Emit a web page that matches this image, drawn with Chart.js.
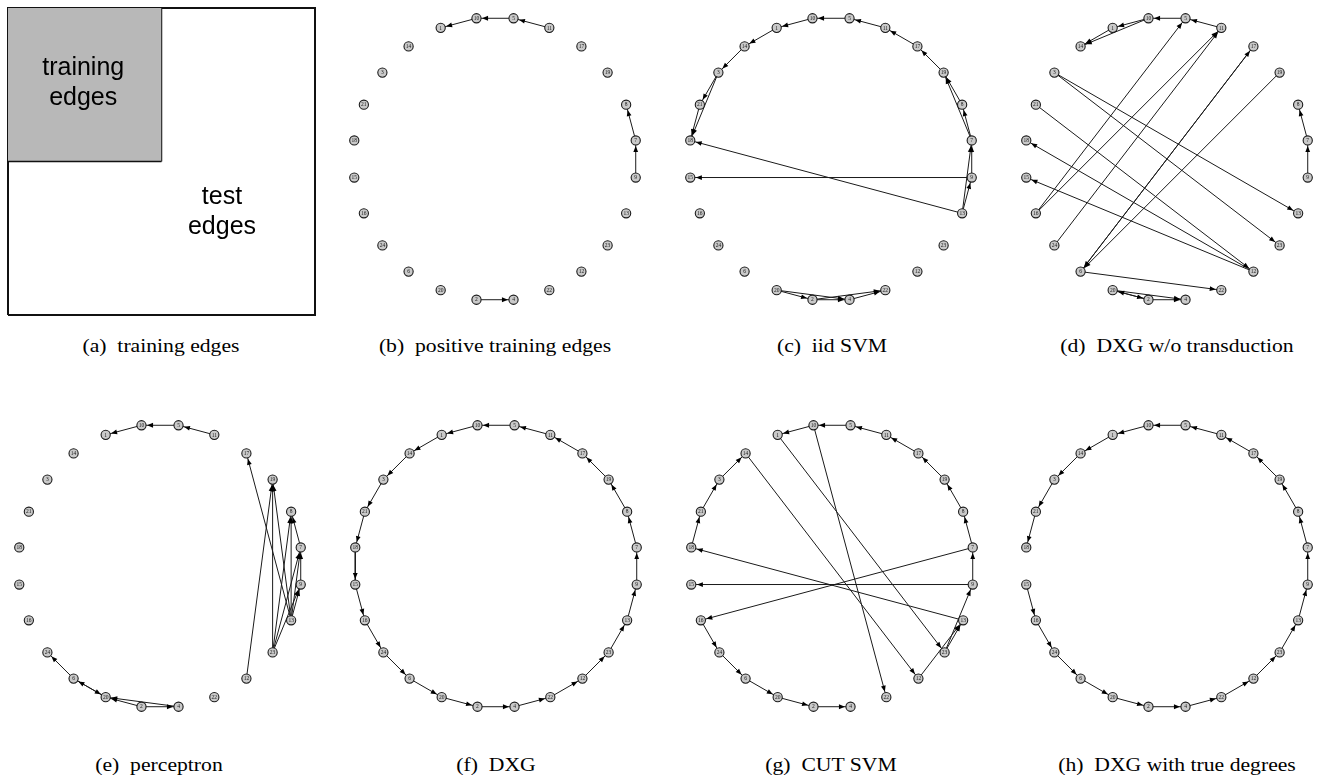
<!DOCTYPE html>
<html>
<head>
<meta charset="utf-8">
<script src="https://cdn.jsdelivr.net/npm/chart.js@4.4.1/dist/chart.umd.min.js"></script>
<style>
  body { margin: 0; background: #fff; width: 1325px; height: 779px; position: relative; overflow: hidden; }
  canvas { position: absolute; }
  .cap { position: absolute; width: 400px; text-align: center; white-space: pre;
         font-family: "Liberation Serif", "Times New Roman", serif; font-size: 19px; color: #000;
         transform: scaleX(1.14); transform-origin: center; }
</style>
</head>
<body>
<canvas id="pa" width="311" height="311" style="left:6px;top:6px"></canvas>
<canvas id="pb" width="318" height="318"></canvas>
<canvas id="pc" width="318" height="318"></canvas>
<canvas id="pd" width="318" height="318"></canvas>
<canvas id="pe" width="318" height="318"></canvas>
<canvas id="pf" width="318" height="318"></canvas>
<canvas id="pg" width="318" height="318"></canvas>
<canvas id="ph" width="318" height="318"></canvas>

<div class="cap" style="left:-39px;top:335px">(a)  training edges</div>
<div class="cap" style="left:295px;top:335px">(b)  positive training edges</div>
<div class="cap" style="left:632px;top:335px">(c)  iid SVM</div>
<div class="cap" style="left:977px;top:335px">(d)  DXG w/o transduction</div>
<div class="cap" style="left:-41px;top:754px">(e)  perceptron</div>
<div class="cap" style="left:296px;top:754px">(f)  DXG</div>
<div class="cap" style="left:631px;top:754px">(g)  CUT SVM</div>
<div class="cap" style="left:977px;top:754px">(h)  DXG with true degrees</div>

<script>
// node names, clockwise round the circle starting just right of the top
const nodeOrder = [5, 11, 17, 19, 8, 7, 9, 13, 23, 12, 22, 4, 2, 20, 6, 24, 16, 15, 18, 21, 3, 14, 1, 10];

// directed edges [from, to] for each panel
const positiveEdges = [[11, 5], [5, 10], [10, 1], [9, 7], [7, 8], [2, 4]];

const iidSvmEdges = [[11, 5], [5, 10], [10, 1], [1, 14], [14, 3], [3, 21], [3, 18], [21, 18],
    [17, 11], [19, 17], [8, 19], [7, 19], [7, 8], [9, 7], [13, 9], [13, 7], [9, 15], [13, 18],
    [20, 2], [20, 4], [2, 4], [2, 22], [4, 22]];

const noTransductionEdges = [[11, 5], [5, 10], [10, 1], [10, 14], [1, 14], [9, 7], [7, 8],
    [16, 5], [16, 11], [24, 11], [6, 17], [17, 6], [19, 6], [6, 22], [3, 13], [3, 23],
    [21, 12], [12, 18], [12, 15], [2, 20], [20, 2], [20, 4], [2, 4]];

const perceptronEdges = [[11, 5], [5, 10], [10, 1], [12, 19], [13, 17], [23, 19], [13, 19],
    [23, 8], [13, 8], [23, 7], [13, 7], [23, 9], [13, 9], [9, 7], [7, 8],
    [6, 24], [20, 6], [6, 20], [2, 20], [4, 20], [2, 4]];

const dxgEdges = [[5, 10], [10, 1], [1, 14], [14, 3], [3, 21], [21, 18], [18, 15], [15, 16],
    [16, 24], [24, 6], [6, 20], [20, 2], [2, 4], [4, 22], [22, 12], [12, 23], [23, 13],
    [13, 9], [9, 7], [7, 8], [8, 19], [19, 17], [17, 11], [11, 5]];

const cutSvmEdges = [[11, 5], [5, 10], [10, 1], [17, 11], [19, 17], [8, 19], [7, 8], [9, 7],
    [23, 9], [23, 13], [12, 13], [13, 18], [9, 15], [7, 16], [1, 23], [10, 22], [14, 12],
    [18, 21], [21, 3], [3, 14], [16, 24], [24, 6], [6, 20], [20, 2], [2, 4]];

const trueDegreeEdges = [[5, 10], [10, 1], [1, 14], [14, 3], [3, 21], [21, 18], [15, 16],
    [16, 24], [24, 6], [6, 20], [20, 2], [2, 4], [4, 22], [22, 12], [12, 23], [23, 13],
    [13, 9], [9, 7], [7, 8], [8, 19], [19, 17], [17, 11], [11, 5]];

// circular layout
const nodePos = (name) => {
    const k = nodeOrder.indexOf(name);
    const a = (7.5 + 15 * k) * Math.PI / 180;
    return { x: Math.sin(a), y: Math.cos(a) };
};

const NODE_R = 4.6;

const arrowPlugin = {
    id: 'arrowHeads',
    afterDatasetsDraw(chart) {
        const ctx = chart.ctx;
        ctx.save();
        ctx.fillStyle = '#000';
        chart.data.datasets.forEach((ds, i) => {
            if (!ds.isEdge) return;
            const pts = chart.getDatasetMeta(i).data;
            const x0 = pts[0].x, y0 = pts[0].y, x1 = pts[1].x, y1 = pts[1].y;
            const len = Math.hypot(x1 - x0, y1 - y0);
            const ux = (x1 - x0) / len, uy = (y1 - y0) / len;
            const tx = x1 - ux * (NODE_R + 1), ty = y1 - uy * (NODE_R + 1);
            const bx = tx - ux * 6, by = ty - uy * 6;
            ctx.beginPath();
            ctx.moveTo(tx, ty);
            ctx.lineTo(bx - uy * 2.4, by + ux * 2.4);
            ctx.lineTo(bx + uy * 2.4, by - ux * 2.4);
            ctx.closePath();
            ctx.fill();
        });
        // node labels
        const meta = chart.getDatasetMeta(0);
        ctx.fillStyle = '#222';
        ctx.font = '5.5px "Liberation Serif"';
        ctx.textAlign = 'center';
        ctx.textBaseline = 'middle';
        meta.data.forEach((p, j) => {
            ctx.fillText(String(nodeOrder[j]), p.x, p.y + 0.3);
        });
        ctx.restore();
    }
};

const drawGraph = (id, edges, left, top) => {
    const canvas = document.getElementById(id);
    canvas.style.left = left + 'px';
    canvas.style.top = top + 'px';

    const datasets = [{
        data: nodeOrder.map(nodePos),
        pointRadius: NODE_R,
        pointBackgroundColor: '#c9c9c9',
        pointBorderColor: '#1a1a1a',
        pointBorderWidth: 1.1,
        showLine: false,
        order: 0,
    }];
    edges.forEach(([from, to]) => {
        datasets.push({
            data: [nodePos(from), nodePos(to)],
            isEdge: true,
            showLine: true,
            borderColor: '#1a1a1a',
            borderWidth: 1,
            pointRadius: 0,
            order: 1,
        });
    });

    new Chart(canvas, {
        type: 'scatter',
        data: { datasets },
        plugins: [arrowPlugin],
        options: {
            responsive: false,
            animation: false,
            devicePixelRatio: 1,
            layout: { padding: 0 },
            plugins: { legend: { display: false }, tooltip: { enabled: false } },
            scales: {
                x: { display: false, min: -1.08, max: 1.08 },
                y: { display: false, min: -1.08, max: 1.08 },
            },
        },
    });
};

drawGraph('pb', positiveEdges, 336, 0);
drawGraph('pc', iidSvmEdges, 672, 0);
drawGraph('pd', noTransductionEdges, 1008, 0);
drawGraph('pe', perceptronEdges, 1, 407);
drawGraph('pf', dxgEdges, 337, 407);
drawGraph('pg', cutSvmEdges, 673, 407);
drawGraph('ph', trueDegreeEdges, 1008, 407);

// panel (a): the split of the edge matrix
const splitAt = 0.5;
const boxOutline = [{ x: 0, y: 0 }, { x: 1, y: 0 }, { x: 1, y: 1 }, { x: 0, y: 1 }, { x: 0, y: 0 }];

const boxLabels = {
    id: 'boxLabels',
    afterDatasetsDraw(chart) {
        const { ctx, scales: { x, y } } = chart;
        ctx.save();
        ctx.fillStyle = '#000';
        ctx.font = '25px "Liberation Sans", Arial, sans-serif';
        ctx.textAlign = 'center';
        ctx.textBaseline = 'middle';
        ctx.fillText('training', x.getPixelForValue(0.245), y.getPixelForValue(0.803));
        ctx.fillText('edges', x.getPixelForValue(0.245), y.getPixelForValue(0.705));
        ctx.fillText('test', x.getPixelForValue(0.697), y.getPixelForValue(0.383));
        ctx.fillText('edges', x.getPixelForValue(0.697), y.getPixelForValue(0.286));
        ctx.restore();
    }
};

new Chart(document.getElementById('pa'), {
    type: 'scatter',
    data: {
        datasets: [
            {
                data: [{ x: 0, y: splitAt }, { x: splitAt, y: splitAt }],
                showLine: true, fill: 'end', backgroundColor: '#b8b8b8',
                borderColor: '#111', borderWidth: 1.5, pointRadius: 0, clip: false,
            },
            {
                data: [{ x: splitAt, y: splitAt }, { x: splitAt, y: 1 }],
                showLine: true, borderColor: '#111', borderWidth: 1.5, pointRadius: 0, clip: false,
            },
            {
                data: boxOutline,
                showLine: true, borderColor: '#111', borderWidth: 2, pointRadius: 0, clip: false,
            },
        ],
    },
    plugins: [boxLabels],
    options: {
        responsive: false,
        animation: false,
        devicePixelRatio: 1,
        layout: { padding: 2 },
        plugins: { legend: { display: false }, tooltip: { enabled: false } },
        scales: {
            x: { display: false, min: 0, max: 1 },
            y: { display: false, min: 0, max: 1 },
        },
    },
});
</script>
</body>
</html>
